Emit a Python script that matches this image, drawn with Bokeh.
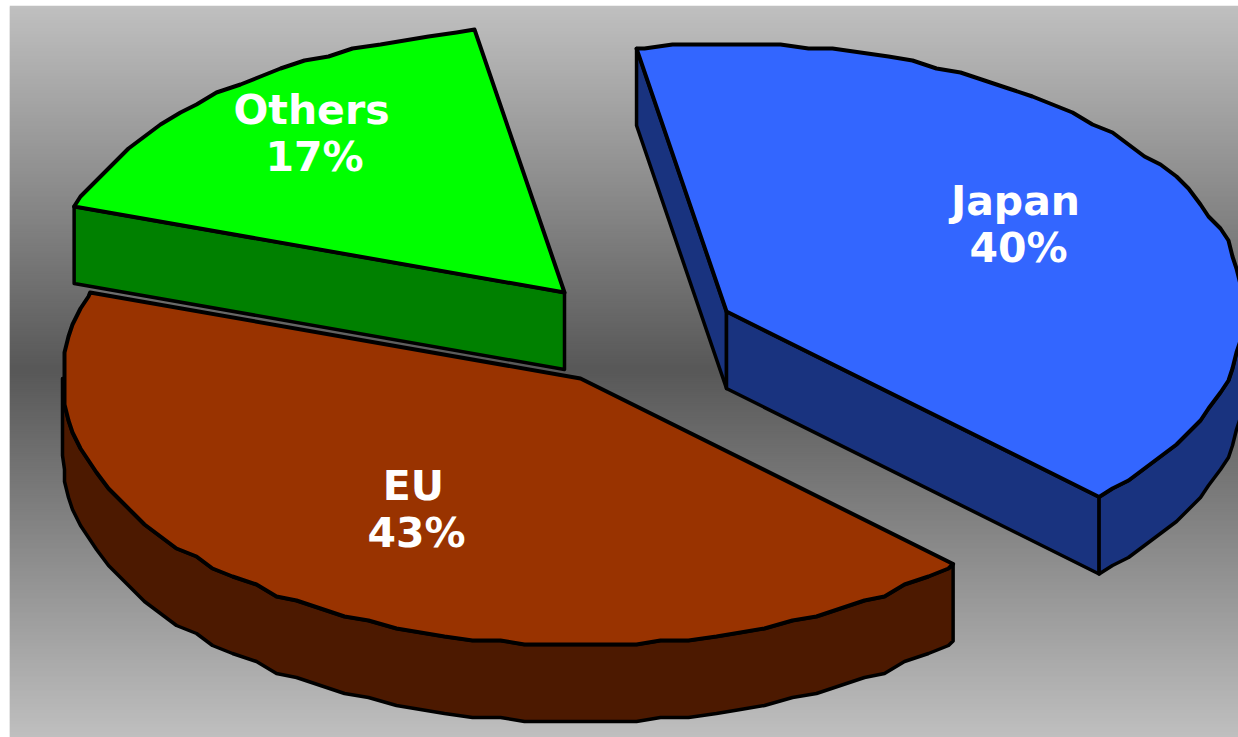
import numpy as np
from bokeh.plotting import figure
from bokeh.embed import file_html
from bokeh.resources import INLINE
from bokeh.core.properties import value

categories = ["Japan", "EU", "Others"]
shares = [40, 43, 17]

top_colors = ["#3366FF", "#993300", "#00FF00"]
side_colors = ["#19337F", "#4C1900", "#008000"]
apexes = [(726, 311), (580, 378), (564, 292)]
label_pos = [(1015, 200, 247), (413, 485, 532), (311, 109, 156)]
VALUE_DX = 3
RX, RY, DEPTH = 518, 267, 77
START = 100.0
STEP = 4  # the reference's outline is a coarse polyline snapped to a raster
GRID = 3.0  # degrees between outline vertices

L, R, T, B = 9, 1238, 5, 737
p = figure(width=R - L, height=B - T, x_range=(L, R), y_range=(B, T),
           output_backend="svg", toolbar_location=None, min_border=0,
           outline_line_color=None, background_fill_color=None,
           border_fill_color=None, margin=(5, 0, 0, 9))
p.axis.visible = False
p.grid.visible = False

# vertical background gradient, as thin bands
edges = np.arange(T, B + 1, 2)
mid = 368
frac = np.where(edges[:-1] < mid, (edges[:-1] - T) / (mid - T), (B - edges[:-1]) / (B - mid))
grey = (0xC0 + (0x58 - 0xC0) * frac).astype(int)
colors = [f"#{g:02x}{g:02x}{g:02x}" for g in grey]
p.quad(left=L, right=R, top=edges[:-1], bottom=np.minimum(edges[1:] + 1, B),
       fill_color=colors, line_color=None)


def rim(cx, cy, deg):
    a = np.radians(deg)
    return cx + RX * np.cos(a), cy - RY * np.sin(a)


def arc(cx, cy, a_hi, a_lo):
    """Outline from a_hi down to a_lo on a fixed angular grid, snapped to the raster."""
    inner = np.arange(np.floor(a_hi / GRID) * GRID, a_lo, -GRID)
    inner = inner[(inner < a_hi) & (inner > a_lo)]
    xs, ys = rim(cx, cy, inner)
    xs = np.round(xs / STEP) * STEP
    ys = np.round(ys / STEP) * STEP
    x0, y0 = rim(cx, cy, a_hi)
    x1, y1 = rim(cx, cy, a_lo)
    return np.r_[x0, xs, x1], np.r_[y0, ys, y1]


angle = START
for name, share, top, side, (cx, cy) in zip(categories, shares, top_colors, side_colors, apexes):
    a0, a1 = angle, angle - share * 3.6
    angle = a1
    kw = dict(line_color="black", line_width=3.5, line_join="round")
    # straight cut faces that look towards the viewer
    for a, normal in ((a0, a0 + 90), (a1, a1 - 90)):
        if np.sin(np.radians(normal)) < 0:
            rx, ry = rim(cx, cy, a)
            p.patch([cx, rx, rx, cx], [cy, ry, ry + DEPTH, cy + DEPTH], fill_color=side, **kw)
    # curved outer wall: only the part facing the viewer (-180..0 deg)
    w_hi, w_lo = min(a0, 0), max(a1, -180)
    if w_hi > w_lo:
        xs, ys = arc(cx, cy, w_hi, w_lo)
        p.patch(np.r_[xs, xs[::-1]], np.r_[ys, ys[::-1] + DEPTH], fill_color=side, **kw)
    # top surface
    xs, ys = arc(cx, cy, a0, a1)
    p.patch(np.r_[cx, xs], np.r_[cy, ys], fill_color=top, line_color="black",
            line_width=4, line_join="round")

for name, share, (x, y1, y2) in zip(categories, shares, label_pos):
    for txt, xx, y in ((name, x, y1), (f"{share}%", x + VALUE_DX, y2)):
        p.text([xx], [y], text=[txt], text_color="white", text_align="center",
               text_baseline="middle", text_font=value("DejaVu Sans"),
               text_font_style="bold", text_font_size="41px")

open("out.html", "w").write(file_html(p, INLINE))
